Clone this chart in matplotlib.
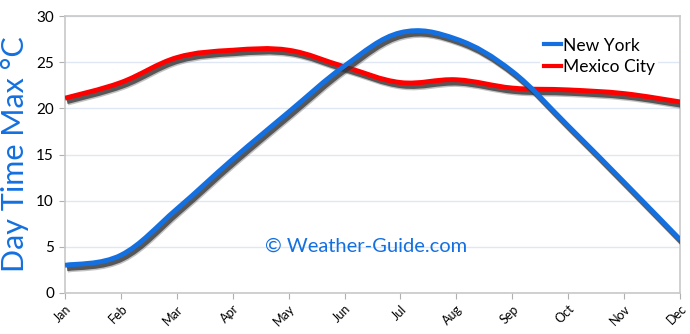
import matplotlib
matplotlib.use("Agg")
import matplotlib.pyplot as plt
import matplotlib.patheffects as pe
from matplotlib.path import Path
from matplotlib.patches import PathPatch
from matplotlib.lines import Line2D
import numpy as np

months = ["Jan", "Feb", "Mar", "Apr", "May", "Jun", "Jul", "Aug", "Sep", "Oct", "Nov", "Dec"]
new_york = [3.0, 4.1, 9.1, 14.5, 19.6, 24.6, 28.2, 27.5, 24.0, 18.1, 12.0, 5.8]
mexico_city = [21.1, 22.8, 25.5, 26.3, 26.3, 24.5, 22.8, 23.1, 22.2, 22.0, 21.6, 20.7]

plt.rcParams['font.family'] = ['Lato', 'DejaVu Sans']


def smooth_path(xs, ys, t=0.18):
    # catmull-rom style bezier through the data points
    xs = np.asarray(xs, float)
    ys = np.asarray(ys, float)
    verts = [(xs[0], ys[0])]
    codes = [Path.MOVETO]
    n = len(xs)
    for i in range(n - 1):
        p0 = i - 1 if i > 0 else i
        p3 = i + 2 if i + 2 < n else i + 1
        c1 = (xs[i] + (xs[i + 1] - xs[p0]) * t, ys[i] + (ys[i + 1] - ys[p0]) * t)
        c2 = (xs[i + 1] - (xs[p3] - xs[i]) * t, ys[i + 1] - (ys[p3] - ys[i]) * t)
        verts += [c1, c2, (xs[i + 1], ys[i + 1])]
        codes += [Path.CURVE4] * 3
    return Path(verts, codes)


fig = plt.figure(figsize=(6.9, 3.34), dpi=100)
ax = fig.add_axes([0.0942, 0.1228, 0.8913, 0.8292])

x = np.arange(len(months))
shadow = [pe.SimpleLineShadow(offset=(1.5, -2.5), shadow_color='#222222', alpha=0.75),
          pe.SimpleLineShadow(offset=(2, -3.5), shadow_color='#555555', alpha=0.35),
          pe.Normal()]

for vals, col in [(mexico_city, '#ff0000'), (new_york, '#1470e0')]:
    patch = PathPatch(smooth_path(x, vals), fill=False, edgecolor=col, lw=3.5,
                      capstyle='butt', zorder=3, path_effects=shadow)
    ax.add_patch(patch)

ax.set_xlim(0, len(months) - 1)
ax.set_ylim(0, 30)
ax.set_yticks(range(0, 31, 5))
ax.set_xticks(x)
ax.set_xticklabels(months, rotation=45, ha='right', va='top', rotation_mode='anchor', fontsize=9)
ax.tick_params(axis='y', labelsize=11, length=4, color='#b0b0b0', pad=4)
ax.tick_params(axis='x', length=4, color='#b0b0b0', pad=3)
ax.grid(axis='y', color='#dfe6f4', lw=1)
ax.set_axisbelow(True)
for s in ax.spines.values():
    s.set_color('#c8c8c8')
    s.set_linewidth(1.2)

ax.set_ylabel("Day Time Max °C", color='#1470e0', fontsize=22, labelpad=5)

handles = [Line2D([], [], color='#1470e0', lw=3), Line2D([], [], color='#ff0000', lw=3)]
leg = ax.legend(handles, ["New York", "Mexico City"], loc='upper right',
                bbox_to_anchor=(0.965, 0.935), frameon=True, fontsize=12.5,
                handlelength=1.0, handletextpad=0.1, labelspacing=0.3,
                borderpad=0.2, borderaxespad=0)
leg.get_frame().set_edgecolor('none')
leg.get_frame().set_facecolor('white')
leg.get_frame().set_alpha(1)

ax.text(0.49, 0.17, "© Weather-Guide.com", transform=ax.transAxes, ha='center',
        va='center', color='#1470e0', fontsize=14.5)

fig.savefig("out.png", dpi=100)
